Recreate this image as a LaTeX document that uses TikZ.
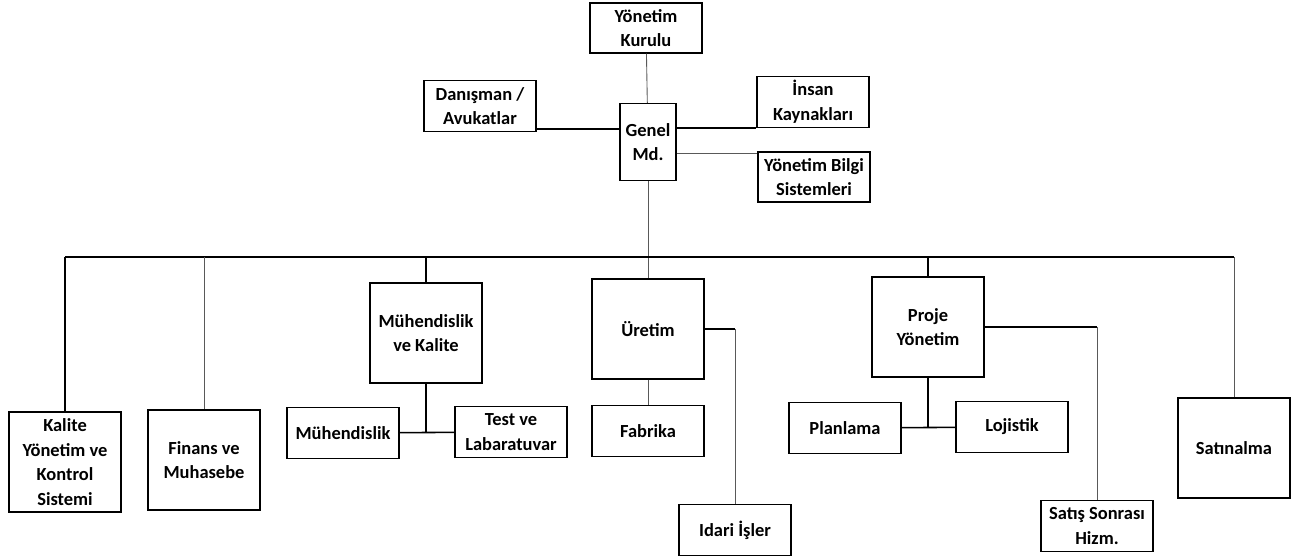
\documentclass[tikz,border=0pt]{standalone}
\usepackage{fontspec}
\setmainfont{Carlito}
\usetikzlibrary{positioning}

\begin{document}
\begin{tikzpicture}[
  unit/.style={draw, line width=0.8pt, align=center, inner sep=1pt,
    minimum width=2.24cm, minimum height=1.02cm,
    font=\fontsize{10.5}{14}\selectfont\bfseries},
  tall/.style={unit, minimum height=2cm},
  link/.style={line width=0.9pt},
  faint/.style={draw=black!65, line width=0.5pt}
]
\useasboundingbox (0,0) rectangle (26.02,-11.14);

% top management
\node[unit, minimum height=1cm] (ykr) at (12.92,-0.56) {Yönetim\\Kurulu};
\node[unit, minimum width=1.12cm, minimum height=1.54cm] (gm) at (12.96,-2.84) {Genel\\Md.};
\node[unit] (dan) at (9.60,-2.12) {Danışman /\\Avukatlar};
\node[unit] (ik) at (16.26,-2.04) {İnsan\\Kaynakları};
\node[unit, minimum height=1cm] (ybs) at (16.28,-3.54) {Yönetim Bilgi\\Sistemleri};
\coordinate (bus) at (0,-5.14);

% departments
\node[tall] (kys) at (1.30,-9.24) {Kalite\\Yönetim ve\\Kontrol\\Sistemi};
\node[tall] (fin) at (4.08,-9.20) {Finans ve\\Muhasebe};
\node[tall] (mk) at (8.52,-6.66) {Mühendislik\\ve Kalite};
\node[tall] (ure) at (12.96,-6.58) {Üretim};
\node[tall] (pro) at (18.56,-6.54) {Proje\\Yönetim};
\node[tall] (satin) at (24.68,-8.96) {Satınalma};

% sub units
\node[unit] (muh) at (6.86,-8.66) {Mühendislik};
\node[unit] (test) at (10.22,-8.64) {Test ve\\Labaratuvar};
\node[unit] (fab) [below=5mm of ure] {Fabrika};
\node[unit] (idr) at (14.70,-10.60) {Idari İşler};
\node[unit] (plan) at (16.90,-8.56) {Planlama};
\node[unit] (loj) at (20.24,-8.54) {Lojistik};
\node[unit] (sss) at (21.94,-10.52) {Satış Sonrası\\Hizm.};

% top links
\draw[faint] (ykr) -- (gm);
\draw[link] ([yshift=2.6mm]gm.west) -- ([yshift=2.6mm]gm.west -| dan.east);
\draw[link] ([yshift=2.8mm]gm.east) -- ([yshift=2.8mm]gm.east -| ik.west);
\draw[faint] ([yshift=-2.2mm]gm.east) -- ([yshift=-2.2mm]gm.east -| ybs.west);
\draw[faint] (gm) -- (ure);

% bus and drops
\draw[link] (kys.north |- bus) -- (satin.north |- bus);
\draw[link] (kys.north |- bus) -- (kys);
\draw[faint] (fin.north |- bus) -- (fin);
\draw[link] (mk.north |- bus) -- (mk);
\draw[link] (pro.north |- bus) -- (pro);
\draw[faint] (satin.north |- bus) -- (satin);

% sub links
\draw[link] (mk) -- (mk.south |- muh.east);
\draw[link] (muh) -- (test);
\draw[faint] (ure) -- (fab);
\draw[link] (ure.east) -- (ure.east -| idr.north);
\draw[faint] (ure.east -| idr.north) -- (idr);
\draw[link] (pro) -- (pro.south |- plan.east);
\draw[link] (plan) -- (loj);
\draw[link] (pro.east) -- (pro.east -| sss.north);
\draw[faint] (pro.east -| sss.north) -- (sss);
\end{tikzpicture}
\end{document}
